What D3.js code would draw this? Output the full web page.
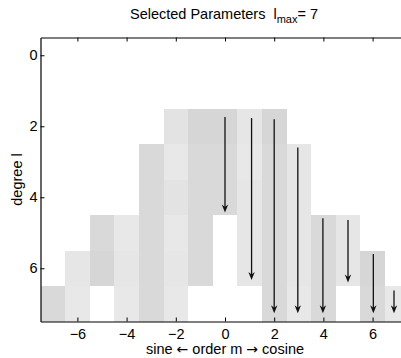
<!DOCTYPE html>
<html>
<head>
<meta charset="utf-8">
<script src="https://cdn.jsdelivr.net/npm/d3@7"></script>
<style>
  body { margin:0; background:#fff; }
  svg { display:block; font-family:"Liberation Sans", Arial, Helvetica, sans-serif; }
</style>
</head>
<body>
<svg id="chart" width="401" height="358"></svg>
<script>
// ---- data
var degrees = [2, 3, 4, 5, 6, 7];
var orders = [
  [-2, -1, 0, 1, 2],
  [-3, -2, -1, 0, 1, 2, 3],
  [-3, -2, -1, 0, 1, 2, 3],
  [-5, -4, -3, -2, -1, 1, 2, 3, 4, 5],
  [-6, -5, -4, -3, -2, -1, 1, 2, 3, 4, 5, 6],
  [-7, -6, -4, -3, -2, 2, 3, 4, 6, 7]
];
// grey level of every cell (0..1), same order as orders
var greys = [
  [0.89, 0.84, 0.84, 0.90, 0.84],
  [0.85, 0.91, 0.85, 0.85, 0.91, 0.85, 0.90],
  [0.85, 0.89, 0.85, 0.85, 0.90, 0.85, 0.90],
  [0.85, 0.91, 0.85, 0.91, 0.85, 0.90, 0.85, 0.90, 0.85, 0.90],
  [0.90, 0.84, 0.90, 0.85, 0.90, 0.85, 0.90, 0.85, 0.90, 0.85, 0.90, 0.84],
  [0.85, 0.91, 0.91, 0.85, 0.91, 0.85, 0.91, 0.85, 0.85, 0.91]
];
var arrowM    = [0, 1.08, 2, 2.96, 3.98, 5, 6.03, 6.87];
var arrowFrom = [1.74, 1.77, 1.80, 2.60, 4.59, 4.64, 5.60, 6.63];
var arrowTo   = [4.43, 6.33, 7.27, 7.27, 7.27, 6.40, 7.27, 7.27];
var xTicks = [-6, -4, -2, 0, 2, 4, 6];
var yTicks = [0, 2, 4, 6];

// ---- geometry
var mLeft = 40.5, mTop = 37.5, mBottom = 321.5, mRight = 409.5;

var svg = d3.select("#chart");
var x = d3.scaleLinear().domain([-7.5, 7.5]).range([mLeft, mRight]);
var y = d3.scaleLinear().domain([-0.5, 7.5]).range([mTop, mBottom]);

//--------------------- cells
var cells = [];
degrees.forEach(function (l, i) {
  orders[i].forEach(function (m, j) {
    cells.push({l: l, m: m, g: greys[i][j]});
  });
});

svg.append("g").selectAll("rect")
  .data(cells).enter().append("rect")
    .attr("x", function (d) { return x(d.m - 0.5); })
    .attr("y", function (d) { return y(d.l - 0.5); })
    .attr("width", function (d) { return x(d.m + 0.5) - x(d.m - 0.5); })
    .attr("height", function (d) { return y(d.l + 0.5) - y(d.l - 0.5); })
    .attr("fill", function (d) { var v = Math.round(d.g * 255); return d3.rgb(v, v, v); })
    .attr("shape-rendering", "crispEdges");

//--------------------- arrows
var arrows = arrowM.map(function (m, i) { return {m: m, a: arrowFrom[i], b: arrowTo[i]}; });
var gArr = svg.append("g");
gArr.selectAll("line").data(arrows).enter().append("line")
  .attr("x1", function (d) { return x(d.m); })
  .attr("x2", function (d) { return x(d.m); })
  .attr("y1", function (d) { return y(d.a); })
  .attr("y2", function (d) { return y(d.b) - 5; })
  .attr("stroke", "#111")
  .attr("stroke-width", 1.3);
gArr.selectAll("path").data(arrows).enter().append("path")
  .attr("d", function (d) {
    var cx = x(d.m), ty = y(d.b);
    return "M" + cx + "," + ty + "L" + (cx - 3.2) + "," + (ty - 8) +
           "L" + cx + "," + (ty - 5.5) + "L" + (cx + 3.2) + "," + (ty - 8) + "Z";
  })
  .attr("fill", "#111");

//--------------------- axes
function styleAxis(g) {
  g.selectAll("path.domain").attr("stroke", "#000").attr("stroke-width", 1.2);
  g.selectAll(".tick line").attr("stroke", "#000").attr("stroke-width", 1);
  g.selectAll(".tick text").attr("fill", "#000").style("font-size", "14.5px")
    .style("font-family", "\"Liberation Sans\", Arial, sans-serif");
}

svg.append("g").attr("transform", "translate(0," + mBottom + ")")
  .call(d3.axisBottom(x).tickValues(xTicks).tickSize(-4).tickSizeOuter(0).tickPadding(7))
  .call(styleAxis);

svg.append("g").attr("transform", "translate(0," + mTop + ")")
  .call(d3.axisTop(x).tickValues(xTicks).tickSize(-4).tickSizeOuter(0).tickFormat(""))
  .call(styleAxis);

svg.append("g").attr("transform", "translate(" + mLeft + ",0)")
  .call(d3.axisLeft(y).tickValues(yTicks).tickSize(-4).tickSizeOuter(0).tickPadding(3))
  .call(styleAxis);

//--------------------- labels
var title = svg.append("text")
  .attr("x", 224).attr("y", 19)
  .attr("text-anchor", "middle")
  .style("white-space", "pre")
  .style("font-size", "14.5px");
title.append("tspan").text("Selected Parameters  l");
title.append("tspan").attr("dy", 4).style("font-size", "11px").text("max");
title.append("tspan").attr("dy", -4).text("= 7");

var xl = svg.append("text")
  .attr("x", (mLeft + mRight) / 2).attr("y", 354)
  .attr("text-anchor", "middle")
  .style("font-size", "14.5px");
xl.append("tspan").text("sine ");
xl.append("tspan").style("font-family", "\"DejaVu Sans\", sans-serif").style("font-size", "14px").text("\u2190");
xl.append("tspan").text(" order m ");
xl.append("tspan").style("font-family", "\"DejaVu Sans\", sans-serif").style("font-size", "14px").text("\u2192");
xl.append("tspan").text(" cosine");

svg.append("text")
  .attr("transform", "translate(22," + ((mTop + mBottom) / 2) + ") rotate(-90)")
  .attr("text-anchor", "middle")
  .style("font-size", "14.5px")
  .text("degree l");
</script>
</body>
</html>
